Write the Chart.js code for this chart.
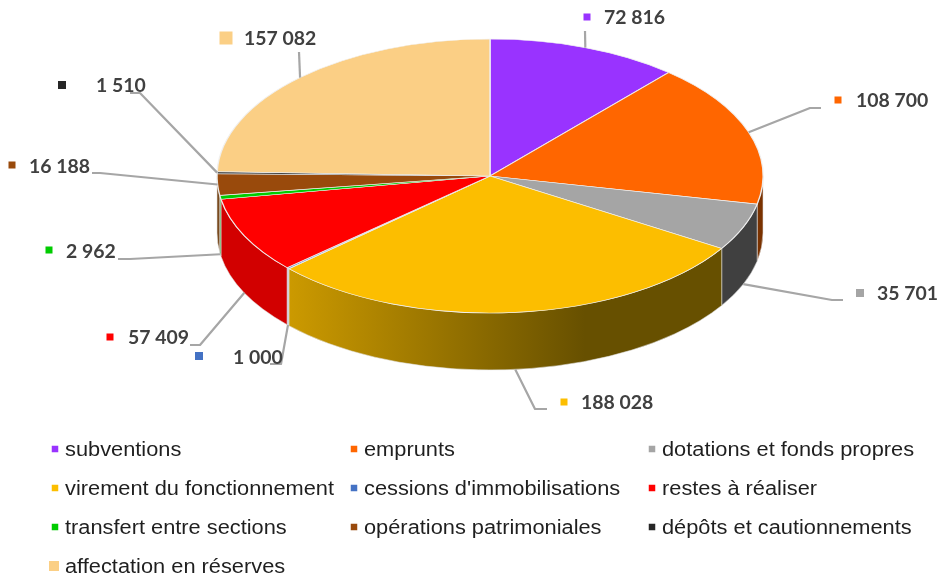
<!DOCTYPE html>
<html><head><meta charset="utf-8">
<style>html,body{margin:0;padding:0;background:#fff}canvas{display:block;filter:blur(0.5px)}</style>
<script src="https://cdn.jsdelivr.net/npm/chart.js@4"></script>
</head><body><canvas id="c" width="940" height="577"></canvas>
<script>
const categories=["subventions","emprunts","dotations et fonds propres","virement du fonctionnement","cessions d'immobilisations","restes à réaliser","transfert entre sections","opérations patrimoniales","dépôts et cautionnements","affectation en réserves"];
const values=[72816,108700,35701,188028,1000,57409,2962,16188,1510,157082];
const valueLabels=["72 816","108 700","35 701","188 028","1 000","57 409","2 962","16 188","1 510","157 082"];
const colors=["#9933ff","#ff6600","#a5a5a5","#fcbe00","#4472c4","#ff0000","#00cc00","#994a0c","#262626","#fbcf85"];
const sideColors=["#5c1f99","#7a3200","#404040",null,"#c5cbdc","#d20000","#3fae3f","#7a4a1e","#262626","#a88a58"];

// layout of the pie
const CY=176, SQUASH=0.5018, DEPTH=57;
// callout layout: label text x, text centre y, marker centre x,y, marker size, elbow points
const callouts=[
 {tx:604,ty:18,mx:587,my:17,ms:7,pts:[[585,31]]},
 {tx:856,ty:101,mx:838,my:100,ms:7,pts:[[810,108],[821,108]]},
 {tx:877,ty:294,mx:860,my:293,ms:8,pts:[[832,300],[843,300]]},
 {tx:581,ty:403,mx:564,my:402,ms:7,pts:[[535,409],[547,409]]},
 {tx:233,ty:358,mx:199,my:356,ms:8,pts:[[281,364],[270,364]]},
 {tx:128,ty:338,mx:110,my:337,ms:7,pts:[[200,345],[190,345]]},
 {tx:66,ty:252,mx:49,my:250,ms:7,pts:[[130,259],[118,259]]},
 {tx:29,ty:167,mx:12,my:165,ms:7,pts:[[100,173],[92,173]]},
 {tx:96,ty:86,mx:62,my:85,ms:8,pts:[[140,93],[130,93]]},
 {tx:244,ty:39,mx:226,my:38,ms:13,pts:[[299,52]]}
];
// legend grid
const legendCols=[65,364,662], legendRows=[449,488,527,566];

function stretchedText(ctx,t,x,y,sx){
 ctx.save();ctx.translate(x,y);ctx.scale(sx,1);ctx.fillText(t,0,0);ctx.restore();
}
const pie3d={
 id:'pie3d',
 beforeDatasetsDraw(chart){
  const ctx=chart.ctx, arcs=chart.getDatasetMeta(0).data;
  ctx.save();
  arcs.forEach((a,i)=>{
   const s=Math.max(a.startAngle,0), e=Math.min(a.endAngle,Math.PI);
   if(e<=s) return;
   const r=a.outerRadius, ry=r*SQUASH;
   ctx.beginPath();
   ctx.ellipse(a.x,CY,r,ry,0,s,e,false);
   ctx.ellipse(a.x,CY+DEPTH,r,ry,0,e,s,true);
   ctx.closePath();
   if(sideColors[i]) ctx.fillStyle=sideColors[i];
   else{
     const g=ctx.createLinearGradient(288,0,585,0);
     g.addColorStop(0,'#cc9a00');g.addColorStop(1,'#675000');
     ctx.fillStyle=g;
   }
   ctx.fill();
   ctx.strokeStyle='rgba(225,225,225,0.8)';ctx.lineWidth=0.7;ctx.stroke();
  });
  ctx.restore();
  ctx.save();
  const cy=arcs[0].y;
  ctx.transform(1,0,0,SQUASH,0,CY-cy*SQUASH);
 },
 afterDatasetsDraw(chart){
  const ctx=chart.ctx, arcs=chart.getDatasetMeta(0).data;
  ctx.restore();
  ctx.save();
  ctx.strokeStyle='#a6a6a6';ctx.lineWidth=2.2;ctx.lineJoin='round';
  arcs.forEach((a,i)=>{
   const mid=(a.startAngle+a.endAngle)/2, r=a.outerRadius;
   const x=a.x+r*Math.cos(mid), sn=Math.sin(mid);
   const y=CY+r*SQUASH*sn+(sn>0.1?DEPTH:0);
   ctx.beginPath();ctx.moveTo(x,y);
   callouts[i].pts.forEach(p=>ctx.lineTo(p[0],p[1]));
   ctx.stroke();
  });
  ctx.textBaseline='middle';ctx.textAlign='left';
  ctx.font='bold 18.5px Lato';
  arcs.forEach((a,i)=>{
   const c=callouts[i];
   ctx.fillStyle=colors[i];
   ctx.fillRect(c.mx-c.ms/2,c.my-c.ms/2,c.ms,c.ms);
   ctx.fillStyle='#404040';
   stretchedText(ctx,valueLabels[i],c.tx,c.ty,1.05);
  });
  ctx.font='20px "Liberation Sans"';
  categories.forEach((t,i)=>{
   const col=i%3, row=Math.floor(i/3), x=legendCols[col], y=legendRows[row];
   const ms=i===9?10:6.5;
   ctx.fillStyle=colors[i];
   ctx.fillRect(x-10-ms/2-(i===9?1:0),y-ms/2,ms,ms);
   ctx.fillStyle='#1f1f1f';
   stretchedText(ctx,t,x,y+1,1.09);
  });
  ctx.restore();
 }
};
new Chart(document.getElementById('c'),{
 type:'pie',
 data:{labels:categories,datasets:[{data:values,backgroundColor:colors,borderColor:'rgba(240,240,240,0.95)',borderWidth:1.4,clip:false}]},
 options:{responsive:false,animation:false,
  layout:{padding:{left:40,right:0,top:14.8,bottom:14.8}},
  plugins:{legend:{display:false},tooltip:{enabled:false}}},
 plugins:[pie3d]
});
</script></body></html>
